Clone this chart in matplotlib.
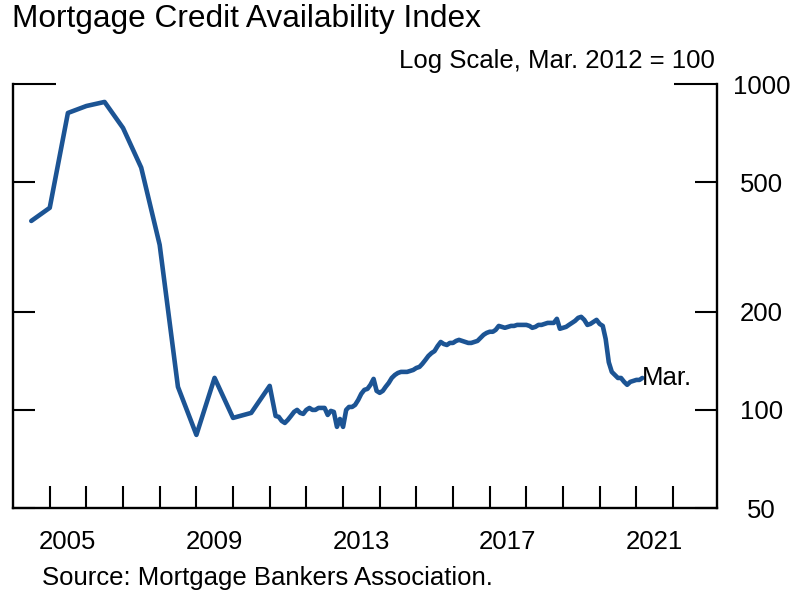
import matplotlib
matplotlib.use('Agg')
from matplotlib import pyplot as plt
import matplotlib.dates as mdates
import matplotlib.ticker as mticker
import pandas as pd

plt.rcParams['font.family'] = ['Liberation Sans', 'DejaVu Sans']

# semi-annual history, Jul 2004 - Jan 2011
semi_dates = pd.date_range('2004-07-01', '2011-01-01', freq='6MS')
semi_vals = [380, 417, 815, 856, 881, 733, 554, 321, 117.7, 83.8,
             125.4, 94.5, 97.9, 118.5]

# monthly, Mar 2011 - Mar 2021
month_dates = pd.date_range('2011-03-01', '2021-03-01', freq='MS')
month_vals = [
    95.8, 95.2, 92.5, 91.2, 93.2, 95.8, 98.6, 100, 97.9, 97.2, 100, 101.4,
    100, 100, 101.4, 101.4, 101.4, 96.5, 99.3, 98.6, 88.7, 93.8, 88.7, 100,
    102.1, 102.1, 103.6, 107.3, 112.0, 115.2, 116.0, 119.4, 124.5, 114.4, 112.8, 114.4,
    117.7, 121.0, 125.3, 128.0, 129.8, 130.8, 130.8, 130.8, 131.7, 132.6, 134.5, 135.5,
    138.4, 142.3, 146.4, 149.4, 151.5, 157.0, 161.6, 159.3, 158.2, 160.5, 160.5, 162.8,
    164.0, 162.8, 161.6, 160.5, 160.5, 161.6, 162.8, 166.3, 170.0, 172.3, 173.7, 173.7,
    176.0, 181.0, 179.8, 178.6, 179.8, 181.0, 181.0, 182.3, 182.3, 182.3, 182.3, 181.0,
    178.6, 179.8, 182.3, 182.3, 183.6, 184.9, 184.9, 184.9, 190.3, 177.4, 178.6, 179.8,
    182.3, 184.9, 187.6, 191.6, 193.0, 188.9, 182.3, 183.6, 186.2, 188.9, 183.6, 181.0,
    165, 140, 130.8, 128.0, 125.3, 125.3, 121.9, 119.4, 121.9, 122.7, 123.6, 123.6,
    125.3,
]

year_labels = ['2005', '2009', '2013', '2017', '2021']
y_labels = [50, 100, 200, 500]

dates = list(semi_dates) + list(month_dates)
vals = semi_vals + month_vals

blue = '#1c5494'
fsz = 18.5

fig = plt.figure(figsize=(7.93, 5.93), dpi=100)
ax = fig.add_axes([13/793, 85/593, 704/793, 424/593])

ax.plot(dates, vals, color=blue, lw=3.3, solid_joinstyle='round', solid_capstyle='round')
ax.text(dates[-1], vals[-1], 'Mar.', ha='left', va='center', fontsize=fsz)

ax.set_yscale('log')
ax.set_ylim(50, 1000)
ax.set_xlim(pd.Timestamp('2004-01-01'), pd.Timestamp('2023-03-15'))

for side in ('left', 'right', 'bottom'):
    ax.spines[side].set_linewidth(1.7)
ax.spines['top'].set_visible(False)

# year ticks on the bottom, labels centred mid-year
ax.xaxis.set_major_locator(mticker.FixedLocator(
    [mdates.date2num(pd.Timestamp(f'{y}-01-01')) for y in range(2005, 2023)]))
ax.xaxis.set_major_formatter(mticker.NullFormatter())
ax.xaxis.set_minor_locator(mticker.FixedLocator(
    [mdates.date2num(pd.Timestamp(y + '-07-01')) for y in year_labels]))
ax.xaxis.set_minor_formatter(mticker.FixedFormatter(year_labels))
ax.tick_params(axis='x', which='major', direction='in', length=16, width=1.5)
ax.tick_params(axis='x', which='minor', length=0, pad=16, labelsize=fsz)

# y ticks on both sides, labels on the right
ax.yaxis.set_major_locator(mticker.FixedLocator([1000]))
ax.yaxis.set_major_formatter(mticker.FixedFormatter(['1000']))
ax.yaxis.set_minor_locator(mticker.FixedLocator(y_labels))
ax.yaxis.set_minor_formatter(mticker.FixedFormatter([str(v) for v in y_labels]))
ax.tick_params(axis='y', which='both', direction='in', left=True, right=True,
               labelleft=False, labelright=True, width=1.5, pad=32, labelsize=fsz)
ax.tick_params(axis='y', which='major', length=31)
ax.tick_params(axis='y', which='minor', length=16)
for t in ax.yaxis.get_major_ticks() + ax.yaxis.get_minor_ticks():
    t.label2.set_horizontalalignment('center')

fig.text(12/793, 1 - 19/593, 'Mortgage Credit Availability Index', ha='left', va='center', fontsize=22.8)
fig.text(715/793, 1 - 61/593, 'Log Scale, Mar. 2012 = 100', ha='right', va='center', fontsize=fsz)
fig.text(42/793, 1 - 578/593, 'Source: Mortgage Bankers Association.', ha='left', va='center', fontsize=fsz)

fig.savefig('out.png', dpi=100)
